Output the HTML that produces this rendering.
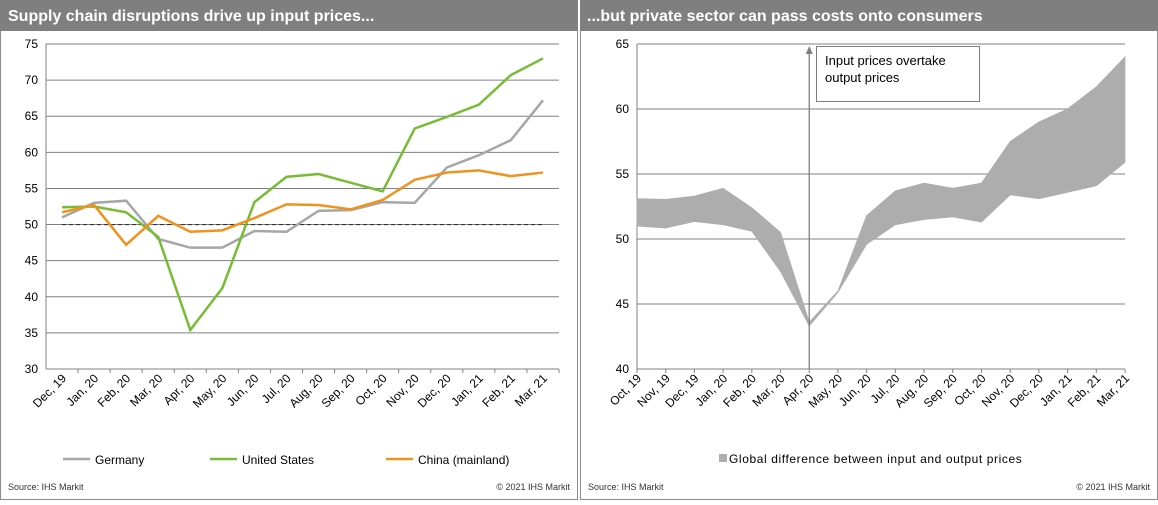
<!DOCTYPE html>
<html><head><meta charset="utf-8"><style>
body{margin:0;background:#fff;font-family:"Liberation Sans",Arial,sans-serif}
svg text{font-family:"Liberation Sans",Arial,sans-serif}
</style></head><body>
<svg id="s" width="1158" height="500" xmlns="http://www.w3.org/2000/svg">
<rect x="0.5" y="0.5" width="577" height="499" fill="#fff" stroke="#8c8c8c"/>
<rect x="580.5" y="0.5" width="577" height="499" fill="#fff" stroke="#8c8c8c"/>
<rect x="0" y="0" width="578" height="31" fill="#7f7f7f"/>
<rect x="580" y="0" width="578" height="31" fill="#7f7f7f"/>
<text x="8" y="21" fill="#fff" font-size="16" font-weight="bold">Supply chain disruptions drive up input prices...</text>
<text x="587" y="21" fill="#fff" font-size="16" font-weight="bold">...but private sector can pass costs onto consumers</text>
<g id="L"></g>
<g id="R"></g>
<text x="8" y="490" font-size="9" fill="#333">Source:  IHS Markit</text>
<text x="570" y="490" font-size="9" fill="#333" text-anchor="end">© 2021  IHS Markit</text>
<text x="588" y="490" font-size="9" fill="#333">Source:  IHS Markit</text>
<text x="1150" y="490" font-size="9" fill="#333" text-anchor="end">© 2021  IHS Markit</text>
</svg>
<script>
const leftCats=["Dec, 19","Jan, 20","Feb, 20","Mar, 20","Apr, 20","May, 20","Jun, 20","Jul, 20","Aug, 20","Sep, 20","Oct, 20","Nov, 20","Dec, 20","Jan, 21","Feb, 21","Mar, 21"];
const germany=[51,53,53.3,48,46.8,46.8,49.1,49,51.9,52,53.1,53,57.9,59.6,61.7,67.2];
const unitedStates=[52.4,52.5,51.7,48.3,35.4,41.2,53.1,56.6,57,55.8,54.6,63.3,64.9,66.6,70.7,73];
const china=[51.7,52.7,47.2,51.2,49,49.2,50.9,52.8,52.7,52.1,53.4,56.2,57.2,57.5,56.7,57.2];
const leftTicks=[30,35,40,45,50,55,60,65,70,75];
const rightCats=["Oct, 19","Nov, 19","Dec, 19","Jan, 20","Feb, 20","Mar, 20","Apr, 20","May, 20","Jun, 20","Jul, 20","Aug, 20","Sep, 20","Oct, 20","Nov, 20","Dec, 20","Jan, 21","Feb, 21","Mar, 21"];
const upperBound=[53.1,53.05,53.3,53.9,52.4,50.5,43.6,46,51.8,53.7,54.3,53.9,54.3,57.5,59,60,61.7,64];
const lowerBound=[51,50.85,51.35,51.1,50.6,47.5,43.3,45.9,49.6,51.1,51.5,51.7,51.3,53.4,53.1,53.6,54.1,55.9];
const rightTicks=[40,45,50,55,60,65];
const NS="http://www.w3.org/2000/svg";
function mk(p,t,a){const e=document.createElementNS(NS,t);for(const k in a)e.setAttribute(k,a[k]);p.appendChild(e);return e;}
// left
const L=document.getElementById('L');
const lx0=46,lx1=559,ly0=369,ly1=44,lmin=30,lmax=75;
const lbw=(lx1-lx0)/leftCats.length;
const lX=i=>lx0+lbw*(i+0.5), lY=v=>ly0-(v-lmin)/(lmax-lmin)*(ly0-ly1);
leftTicks.forEach(t=>{
 const g=mk(L,'line',{x1:lx0,x2:lx1,y1:lY(t),y2:lY(t),stroke:'#808080','stroke-width':1});
 
 
 const tx=mk(L,'text',{x:lx0-8,y:lY(t)+4,'font-size':12,'text-anchor':'end',fill:'#000'});tx.textContent=t;
 
 
});
mk(L,'line',{x1:lx0,x2:lx0,y1:ly1,y2:ly0,stroke:'#808080'});
const dl=mk(L,'line',{x1:lX(0),x2:lX(leftCats.length-1),y1:lY(50),y2:lY(50),stroke:'#333','stroke-dasharray':'4,3','stroke-width':1.2});


leftCats.forEach((c,i)=>{
 const x=lx0+lbw*(i+1);
 mk(L,'line',{x1:x,x2:x,y1:ly0,y2:ly0+4,stroke:'#808080'});
 const t=mk(L,'text',{x:lX(i)+5,y:ly0+10,'font-size':12,'text-anchor':'end',transform:`rotate(-45 ${lX(i)+5} ${ly0+10})`});t.textContent=c;
 
 
});
[[germany,'#a6a6a6','germany-line'],[unitedStates,'#77bc35','united-states-line'],[china,'#f0921e','china-line']].forEach(([d,c,n])=>{
 const p=mk(L,'polyline',{points:d.map((v,i)=>lX(i)+','+lY(v)).join(' '),fill:'none',stroke:c,'stroke-width':2.5});
 
 
});
[['Germany','#a6a6a6',63],['United States','#77bc35',210],['China (mainland)','#f0921e',386]].forEach(([n,c,x])=>{
 const g=mk(L,'g',{});
 
 
 mk(g,'line',{x1:x,x2:x+27,y1:459,y2:459,stroke:c,'stroke-width':2.5});
 const t=mk(g,'text',{x:x+32,y:464,'font-size':12});t.textContent=n;
});
// right
const R=document.getElementById('R');
const rx0=637,rx1=1125,ry0=369,ry1=44,rmin=40,rmax=65;
const rX=i=>rx0+(rx1-rx0)*i/(rightCats.length-1), rY=v=>ry0-(v-rmin)/(rmax-rmin)*(ry0-ry1);
rightTicks.forEach(t=>{
 const g=mk(R,'line',{x1:rx0,x2:rx1,y1:rY(t),y2:rY(t),stroke:'#808080'});
 
 
 const tx=mk(R,'text',{x:rx0-8,y:rY(t)+4,'font-size':12,'text-anchor':'end'});tx.textContent=t;
 
 
});
mk(R,'line',{x1:rx0,x2:rx0,y1:ry1,y2:ry0,stroke:'#808080'});
rightCats.forEach((c,i)=>{
 mk(R,'line',{x1:rX(i),x2:rX(i),y1:ry0,y2:ry0+4,stroke:'#808080'});
 const t=mk(R,'text',{x:rX(i)+5,y:ry0+10,'font-size':12,'text-anchor':'end',transform:`rotate(-45 ${rX(i)+5} ${ry0+10})`});t.textContent=c;
 
 
});
const pts=upperBound.map((v,i)=>rX(i)+','+rY(v)).concat(lowerBound.map((v,i)=>rX(i)+','+rY(v)).reverse());
const area=mk(R,'polygon',{points:pts.join(' '),fill:'#adadae',stroke:'#adadae','stroke-width':0.8});


const ax=rX(6);
const ar=mk(R,'line',{x1:ax,x2:ax,y1:ry0,y2:52,stroke:'#7f7f7f','stroke-width':1.3});


mk(R,'polygon',{points:`${ax-3.5},54 ${ax+3.5},54 ${ax},46`,fill:'#7f7f7f'});
const box=mk(R,'rect',{x:816.5,y:46.5,width:163,height:55,fill:'#fff',stroke:'#808080'});


const a1=mk(R,'text',{x:825,y:65,'font-size':13});a1.textContent='Input  prices overtake';
const a2=mk(R,'text',{x:825,y:82,'font-size':13});a2.textContent='output prices';
const lg=mk(R,'g',{});


mk(lg,'rect',{x:719,y:454,width:8,height:8,fill:'#adadae'});
const lt=mk(lg,'text',{x:729,y:463,'font-size':12,'letter-spacing':'0.6'});lt.textContent='Global difference between input and output prices';
</script>
</body></html>
